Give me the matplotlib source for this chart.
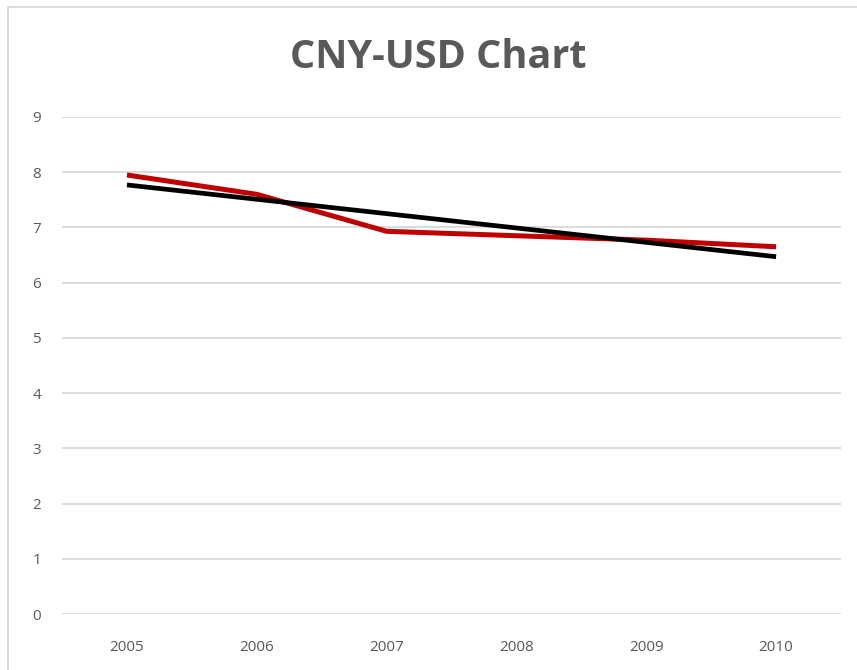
import matplotlib
matplotlib.use('agg')
import matplotlib.pyplot as plt
from matplotlib.patches import Rectangle

# values
years = ['2005', '2006', '2007', '2008', '2009', '2010']
cny_usd = [7.95, 7.60, 6.93, 6.85, 6.77, 6.65]
trend = [7.77, 7.51, 7.25, 6.99, 6.73, 6.47]
y_ticks = [0, 1, 2, 3, 4, 5, 6, 7, 8, 9]

plt.rcParams['font.family'] = ['Open Sans', 'DejaVu Sans']

fig = plt.figure(figsize=(8.57, 6.70), dpi=100)
ax = fig.add_axes([62 / 857, 1 - 614 / 670, (841 - 62) / 857, (614 - 117) / 670])

x = list(range(len(years)))
ax.plot(x, cny_usd, color='#C00000', linewidth=3.6, solid_capstyle='butt', zorder=3)
ax.plot(x, trend, color='black', linewidth=3.4, solid_capstyle='butt', zorder=4)

ax.set_xlim(-0.5, len(years) - 0.5)
ax.set_ylim(0, 9)
ax.set_xticks(x)
ax.set_xticklabels(years)
ax.set_yticks(y_ticks)
ax.grid(axis='y', color='#d9d9d9', linewidth=1.3)
ax.set_axisbelow(True)
ax.tick_params(axis='both', length=0, labelsize=11, colors='#595959')
ax.tick_params(axis='x', pad=18.5)
ax.tick_params(axis='y', pad=15)
for spine in ax.spines.values():
	spine.set_visible(False)

fig.text(0.511, 1 - 58 / 670, 'CNY-USD Chart', ha='center', va='center',
	fontsize=28.5, fontweight='bold', color='#595959')

# light outer border of the chart area
fig.patches.append(Rectangle((8 / 857, -0.01), 1.0, 1 - 7 / 670 + 0.01, transform=fig.transFigure,
	fill=False, edgecolor='#d9d9d9', linewidth=1.3))

fig.savefig('out.png', dpi=100)
